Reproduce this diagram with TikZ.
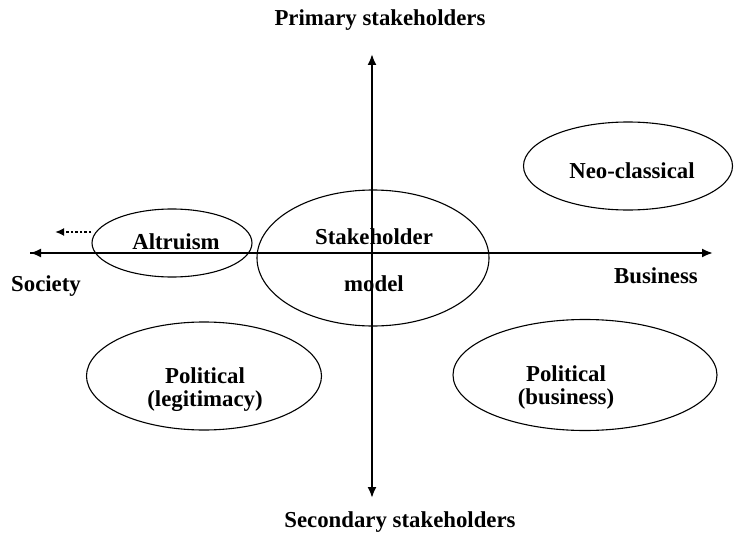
\documentclass[tikz,border=0pt]{standalone}
\usepackage{fontspec}
\setmainfont{Liberation Serif}
\usetikzlibrary{arrows.meta,shapes.geometric}
\begin{document}
\begin{tikzpicture}[x=1pt,y=-1pt,
  lbl/.style={font=\fontsize{22.8}{23}\selectfont\bfseries, inner sep=0pt, align=center},
  oval/.style={draw, ellipse, line width=1.1pt, inner sep=0pt},
  axis/.style={line width=2pt, -{Latex[length=11pt,width=9pt]}},
  hint/.style={line width=1.8pt, dash pattern=on 2.5pt off 2pt, -{Latex[length=9pt,width=8pt]}}]
\useasboundingbox (0,0) rectangle (734,535);
% axis end points
\coordinate (west) at (30,253);
\coordinate (east) at (713,253);
\coordinate (north) at (372,54);
\coordinate (south) at (372,498);
\coordinate (drift) at (55,232);
% ovals
\node[oval, minimum width=232pt, minimum height=136pt] (stake) at (373,258) {};
\node[oval, minimum width=160pt, minimum height=68pt] (altr) at (172,243) {};
\node[oval, minimum width=209pt, minimum height=88pt] (neo) at (628,166) {};
\node[oval, minimum width=235pt, minimum height=108pt] (polL) at (204,376) {};
\node[oval, minimum width=264pt, minimum height=111pt] (polB) at (585,375) {};
% axes
\draw[axis] (east -| south) -- (west);
\draw[axis] (west) -- (east);
\draw[axis] (west -| north) -- (north);
\draw[axis] (west -| north) -- (south);
\draw[hint] (altr.west |- drift) -- (drift);
% labels
\node[lbl] (prim) at (380,20) {Primary stakeholders};
\node[lbl] (secl) at (400,522) {Secondary stakeholders};
\node[lbl] (soc) at (46,286) {Society};
\node[lbl] (bus) at (656,276) {Business};
\node[lbl] (altrt) at (176,242) {Altruism};
\node[lbl] (staket) at (374,237) {Stakeholder};
\node[lbl] (modelt) at (374,284) {model};
\node[lbl] (neot) at (632,171) {Neo-classical};
\node[lbl] (polLt) at (205,390) {Political\\(legitimacy)};
\node[lbl] (polBt) at (566,388) {Political\\(business)};
\end{tikzpicture}
\end{document}
